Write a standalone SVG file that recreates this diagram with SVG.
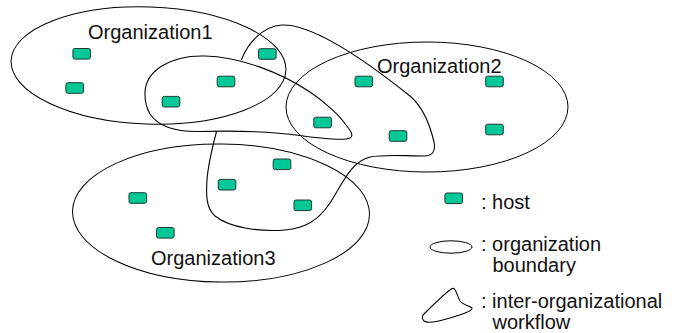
<svg xmlns="http://www.w3.org/2000/svg" xmlns:xlink="http://www.w3.org/1999/xlink" width="679" height="333" viewBox="0 0 679 333">
  <style>
    .boundary { fill: none; stroke: #000; stroke-width: 1; }
    .flow { fill: none; stroke: #000; stroke-width: 1.1; stroke-linejoin: round; stroke-linecap: round; }
    .label { font-family: "Liberation Sans", Arial, Helvetica, sans-serif; font-size: 20px; fill: #111; }
    .host { fill: #00C896; stroke: #1e3a32; stroke-width: 1; }
  </style>
  <defs>
    <!-- host glyph, centred on the origin -->
    <rect id="hostBox" class="host" x="-8.8" y="-5.3" width="17.6" height="10.6" rx="2" ry="2"/>
  </defs>

  <rect width="679" height="333" fill="#fff"/>

  <!-- organization boundaries -->
  <g id="org1">
    <ellipse class="boundary" cx="148.5" cy="65.5" rx="137.5" ry="58.5" transform="rotate(2 148.5 65.5)"/>
    <text class="label" x="88" y="39">Organization1</text>
  </g>
  <g id="org2">
    <ellipse class="boundary" cx="427" cy="107" rx="141" ry="65"/>
    <text class="label" x="377" y="73">Organization2</text>
  </g>
  <g id="org3">
    <ellipse class="boundary" cx="221" cy="213" rx="148.5" ry="69" transform="rotate(0.6 221 213)"/>
    <text class="label" x="151" y="265">Organization3</text>
  </g>

  <!-- inter-organizational workflow -->
  <g id="workflow">
    <path class="flow" d="M 145 95
      C 144 70, 172 55, 205 56
      C 240 57, 280 72, 310 92
      C 325 102, 340 116, 346 125
      C 351 131, 354 136, 350 138
      C 345 140.5, 325 139, 300 135.5
      C 275 132, 240 130.5, 200 131.5
      C 175 132, 158 126, 150 114
      C 146 107, 145 100, 145 95 Z"/>
    <path class="flow" d="M 241.5 59.5
      C 247 45, 262 26, 282 25
      C 310 24, 360 56, 410 96
      C 422 106, 430 125, 434 142
      C 436 152, 432 156, 424 156
      C 405 156, 385 154, 370 157
      C 350 162, 342 185, 330 203
      C 318 221, 305 228, 285 230
      C 260 232, 230 228, 215 216
      C 206 208, 206 195, 207 180
      C 208 165, 213 145, 216.5 131.5"/>
  </g>

  <!-- hosts -->
  <g id="host1"><use xlink:href="#hostBox" x="81.7" y="53.8"/></g>
  <g id="host2"><use xlink:href="#hostBox" x="74.7" y="88"/></g>
  <g id="host3"><use xlink:href="#hostBox" x="171" y="101.7"/></g>
  <g id="host4"><use xlink:href="#hostBox" x="226" y="81.5"/></g>
  <g id="host5"><use xlink:href="#hostBox" x="267.3" y="54"/></g>
  <g id="host6"><use xlink:href="#hostBox" x="322.6" y="122.5"/></g>
  <g id="host7"><use xlink:href="#hostBox" x="363.8" y="81.5"/></g>
  <g id="host8"><use xlink:href="#hostBox" x="398" y="136"/></g>
  <g id="host9"><use xlink:href="#hostBox" x="494.5" y="81.5"/></g>
  <g id="host10"><use xlink:href="#hostBox" x="494.5" y="129.5"/></g>
  <g id="host11"><use xlink:href="#hostBox" x="282" y="164.3"/></g>
  <g id="host12"><use xlink:href="#hostBox" x="227" y="184.7"/></g>
  <g id="host13"><use xlink:href="#hostBox" x="302.8" y="205.3"/></g>
  <g id="host14"><use xlink:href="#hostBox" x="137.8" y="198"/></g>
  <g id="host15"><use xlink:href="#hostBox" x="165.3" y="232.8"/></g>

  <!-- legend -->
  <g id="legend-host">
    <use xlink:href="#hostBox" x="453.7" y="198.3"/>
    <text class="label" x="481" y="209.3">: host</text>
  </g>
  <g id="legend-boundary">
    <ellipse class="boundary" cx="451" cy="247" rx="21" ry="6.2"/>
    <text class="label" x="481" y="251.2"><tspan x="481" y="251.2">: organization</tspan><tspan x="492.5" y="272.2">boundary</tspan></text>
  </g>
  <g id="legend-workflow">
    <path class="flow" d="M 423 315
      C 430 308, 445 293, 452 288.5
      C 456 287, 457 296, 460 301
      C 463 305, 470 306, 472 308
      C 473 311, 460 315, 450 318
      C 440 321, 428 324, 424 321
      C 422 319, 422 317, 423 315 Z"/>
    <text class="label" x="481" y="308.3"><tspan x="481" y="308.3">: inter-organizational</tspan><tspan x="492.5" y="329">workflow</tspan></text>
  </g>
</svg>
